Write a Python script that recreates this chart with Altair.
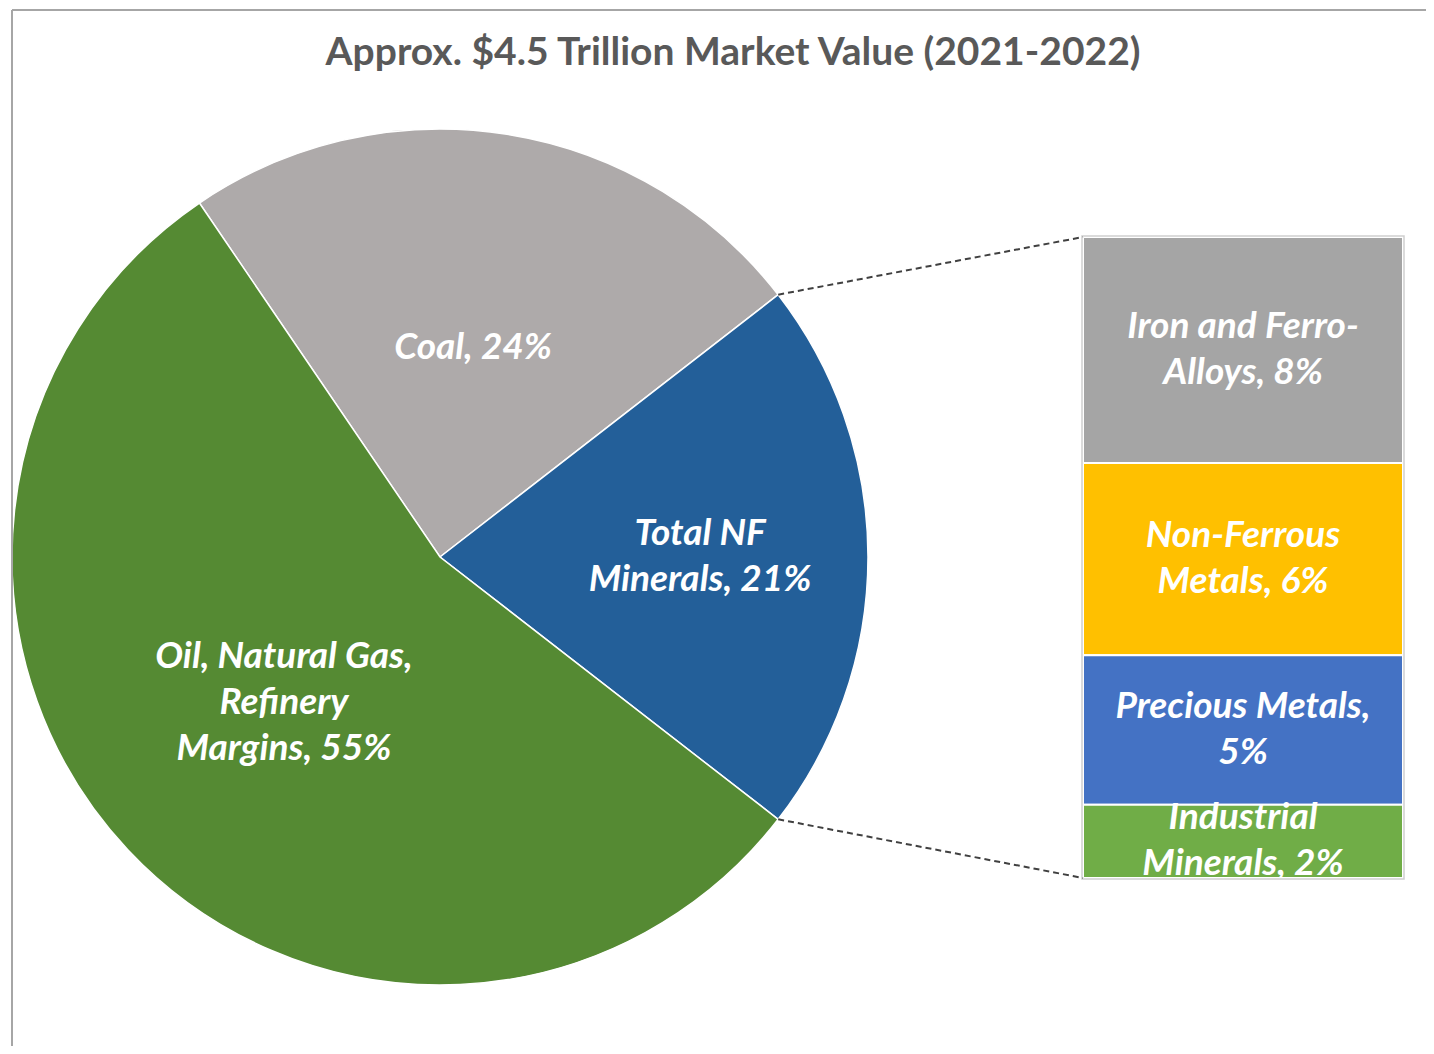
import math
import altair as alt
import pandas as pd

TITLE = "Approx. $4.5 Trillion Market Value (2021-2022)"

pie_cats = ["Coal", "Total NF Minerals", "Oil, Natural Gas, Refinery Margins"]
pie_vals = [24, 21, 55]
pie_labels = ["Coal, 24%", "Total NF\nMinerals, 21%", "Oil, Natural Gas,\nRefinery\nMargins, 55%"]
pie_colors = ["#aeaaaa", "#235f99", "#558a33"]

bar_cats = ["Iron and Ferro-Alloys", "Non-Ferrous Metals", "Precious Metals", "Industrial Minerals"]
bar_vals = [7.4, 6.3, 4.9, 2.4]
bar_labels = ["Iron and Ferro-\nAlloys, 8%", "Non-Ferrous\nMetals, 6%", "Precious Metals,\n5%", "Industrial\nMinerals, 2%"]
bar_colors = ["#a5a5a5", "#ffc000", "#4472c4", "#70ad47"]

# layout (plot-area pixels)
CX, CY, R = 432, 549, 428
BX0, BX1, BY0, BY1 = 1075, 1395, 229, 870
FONT = "Lato"
LH = 46
label_radius = {"Coal": 212, "Total NF Minerals": 260, "Oil, Natural Gas, Refinery Margins": 214}

pie_df = pd.DataFrame({"cat": pie_cats, "value": pie_vals, "label": pie_labels, "idx": list(range(len(pie_cats)))})
bar_df = pd.DataFrame({"cat": bar_cats, "value": bar_vals, "label": bar_labels,
                       "order": list(range(len(bar_cats)))[::-1]})

total = sum(pie_vals)
start = math.pi / 2 - math.pi * pie_vals[1] / total - 2 * math.pi * pie_vals[0] / total
tscale = alt.Scale(domain=[0, total], range=[start, start + 2 * math.pi])

arcs = alt.Chart(pie_df).mark_arc(radius=R, stroke="white", strokeWidth=1.5).encode(
    theta=alt.Theta("value:Q", stack=True, scale=tscale),
    color=alt.Color("cat:N", scale=alt.Scale(domain=pie_cats, range=pie_colors), legend=None),
    order=alt.Order("idx:Q"),
    x=alt.value(CX), y=alt.value(CY),
)

label_style = dict(font=FONT, fontSize=37, fontStyle="italic", fontWeight="bold", color="white",
                   lineBreak="\n", lineHeight=LH, align="center", baseline="middle")

pie_base = alt.Chart(pie_df).transform_window(
    cum="sum(value)", sort=[alt.SortField("idx", order="ascending")]
).transform_calculate(mid="datum.cum - datum.value / 2")

pie_texts = []
for cat, lab in zip(pie_cats, pie_labels):
    n = lab.count("\n") + 1
    pie_texts.append(
        pie_base.transform_filter(alt.datum.cat == cat).mark_text(
            radius=label_radius[cat], dy=-(n - 1) * LH / 2, **label_style
        ).encode(
            theta=alt.Theta("mid:Q", stack=False, scale=tscale),
            text="label:N",
            x=alt.value(CX), y=alt.value(CY),
        )
    )

bar_total = sum(bar_vals)
yscale = alt.Scale(domain=[0, bar_total], range=[BY1, BY0], nice=False, zero=True)

bar_base = alt.Chart(bar_df).transform_window(
    cum="sum(value)", sort=[alt.SortField("order", order="ascending")]
).transform_calculate(lo="datum.cum - datum.value", mid="datum.cum - datum.value / 2")

bars = bar_base.mark_rect(stroke="white", strokeWidth=2).encode(
    x=alt.value(BX0), x2=alt.value(BX1),
    y=alt.Y("lo:Q", scale=yscale, axis=None), y2="cum:Q",
    color=alt.Color("cat:N", scale=alt.Scale(domain=bar_cats, range=bar_colors), legend=None),
)

bar_text = bar_base.mark_text(dy=-LH / 2, **label_style).encode(
    x=alt.value((BX0 + BX1) / 2),
    y=alt.Y("mid:Q", scale=yscale, axis=None),
    text="label:N",
)

one = pd.DataFrame({"a": [0]})
mask = alt.Chart(one).mark_rect(color="white").encode(
    x=alt.value(BX0 - 4), x2=alt.value(BX1 + 6), y=alt.value(BY1 + 1), y2=alt.value(BY1 + 30)
)
bar_border = alt.Chart(one).mark_rect(fillOpacity=0, stroke="#cfcfcf", strokeWidth=1.5).encode(
    x=alt.value(BX0 - 1), x2=alt.value(BX1 + 1), y=alt.value(BY0 - 1), y2=alt.value(BY1 + 1)
)

line_style = dict(color="#404040", strokeWidth=2, strokeDash=[6, 4])
a_top = start + 2 * math.pi * pie_vals[0] / total
a_bot = a_top + 2 * math.pi * pie_vals[1] / total
px_top = (CX + R * math.sin(a_top), CY - R * math.cos(a_top))
px_bot = (CX + R * math.sin(a_bot), CY - R * math.cos(a_bot))
line1 = alt.Chart(one).mark_rule(**line_style).encode(
    x=alt.value(px_top[0]), y=alt.value(px_top[1]), x2=alt.value(BX0), y2=alt.value(BY0))
line2 = alt.Chart(one).mark_rule(**line_style).encode(
    x=alt.value(px_bot[0]), y=alt.value(px_bot[1]), x2=alt.value(BX0), y2=alt.value(BY1))

border_top = alt.Chart(one).mark_rule(color="#a6a6a6", strokeWidth=2).encode(
    x=alt.value(4), x2=alt.value(1418), y=alt.value(2))
border_left = alt.Chart(one).mark_rule(color="#a6a6a6", strokeWidth=2).encode(
    x=alt.value(4), y=alt.value(2), y2=alt.value(1038))

title = alt.Chart(one).mark_text(text=TITLE, font=FONT, fontSize=39, fontWeight="bold",
                                 color="#595959", align="center", baseline="middle").encode(
    x=alt.value(725), y=alt.value(45))

chart = alt.layer(
    arcs, *pie_texts, bars, bar_text, mask, bar_border, line1, line2, border_top, border_left, title
).resolve_scale(color="independent").properties(
    width=1418, height=1038, autosize=alt.AutoSizeParams(type="none"), padding=0, background="white"
).configure_view(strokeWidth=0)

chart.save("out.html", embed_options={"renderer": "svg", "actions": False})
